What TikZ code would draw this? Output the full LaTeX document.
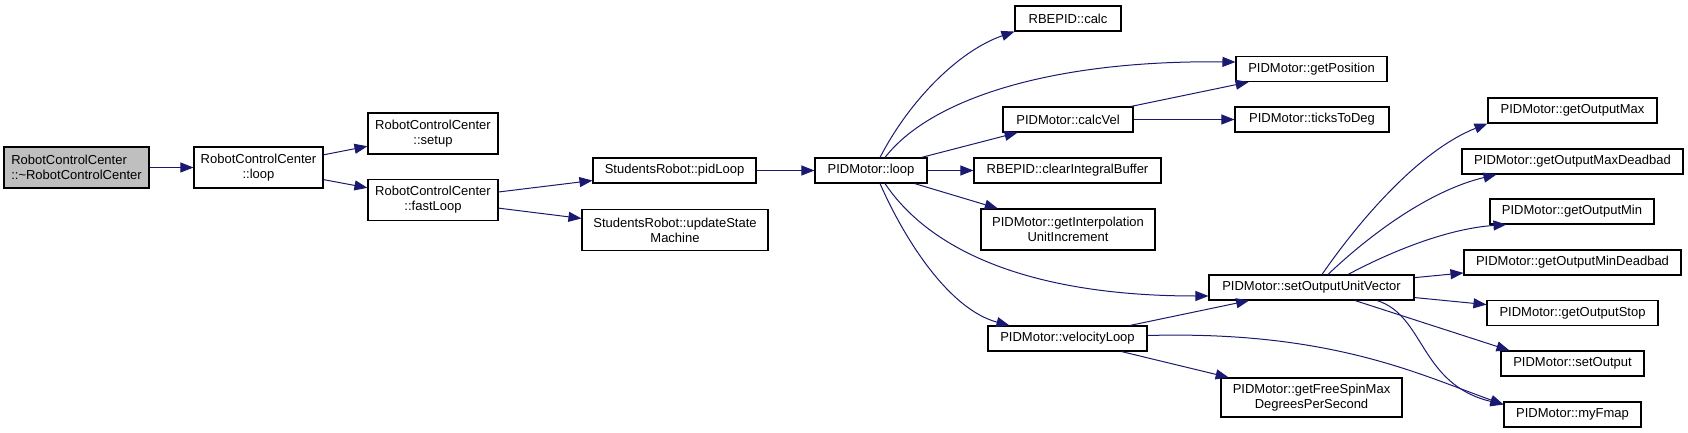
\documentclass[tikz,border=0pt]{standalone}
\usepackage{fontspec}
\setmainfont{Liberation Sans}
\usepackage{tikz}
\usetikzlibrary{calc,arrows.meta}
\definecolor{callBlue}{RGB}{25,25,112}
\definecolor{rootGray}{RGB}{191,191,191}

\begin{document}
\begin{tikzpicture}[x=1pt,y=-1pt,
    fn/.style={draw=black, line width=1.1pt, inner sep=0pt, align=center,
        minimum height=25pt, font=\fontsize{13}{15}\selectfont},
    fntwo/.style={fn, minimum height=41pt},
    call/.style={draw=callBlue, line width=1pt, -{Triangle[length=13pt,width=10pt]}}]

    \useasboundingbox (0,0) rectangle (1688,433);

    % left part of the graph
    \node[fntwo, fill=rootGray, align=left, minimum width=145pt] (rcc) at (76.5,167.5)
        {RobotControlCenter\\::\textasciitilde RobotControlCenter};
    \node[fntwo, minimum width=129pt] (rccloop) at (258.5,167.5) {RobotControlCenter\\::loop};
    \node[fntwo, minimum width=130pt] (setup) at (433,133.5) {RobotControlCenter\\::setup};
    \node[fntwo, minimum width=130pt] (fastloop) at (433,200) {RobotControlCenter\\::fastLoop};
    \node[fn, minimum width=163pt] (pidloop) at (674.5,170.5) {StudentsRobot::pidLoop};
    \node[fntwo, minimum width=186pt] (statemachine) at (675,230) {StudentsRobot::updateState\\Machine};
    \node[fn, minimum width=112pt] (motorloop) at (871,170.5) {PIDMotor::loop};

    % middle column
    \node[fn, minimum width=106pt] (calc) at (1068,18.5) {RBEPID::calc};
    \node[fn, minimum width=130pt] (calcvel) at (1068,119.5) {PIDMotor::calcVel};
    \node[fn, minimum width=187pt] (clearbuf) at (1067.5,170.5) {RBEPID::clearIntegralBuffer};
    \node[fntwo, minimum width=174pt] (interp) at (1068,229.5) {PIDMotor::getInterpolation\\UnitIncrement};
    \node[fn, minimum width=159pt] (vloop) at (1067.5,338.5) {PIDMotor::velocityLoop};

    \node[fn, minimum width=151pt] (getpos) at (1311.5,69) {PIDMotor::getPosition};
    \node[fn, minimum width=154pt] (ticks) at (1312,119.5) {PIDMotor::ticksToDeg};
    \node[fn, minimum width=205pt] (setouv) at (1311.5,287.5) {PIDMotor::setOutputUnitVector};
    \node[fntwo, minimum width=181pt, minimum height=39pt] (freespin) at (1311.5,397.5)
        {PIDMotor::getFreeSpinMax\\DegreesPerSecond};

    % right column
    \node[fn, minimum width=169pt] (omax) at (1572.5,110.5) {PIDMotor::getOutputMax};
    \node[fn, minimum width=221pt] (omaxdb) at (1572.5,161.5) {PIDMotor::getOutputMaxDeadbad};
    \node[fn, minimum width=164pt] (omin) at (1572,211.5) {PIDMotor::getOutputMin};
    \node[fn, minimum width=217pt] (omindb) at (1572.5,262.5) {PIDMotor::getOutputMinDeadbad};
    \node[fn, minimum width=171pt] (ostop) at (1572.5,313) {PIDMotor::getOutputStop};
    \node[fn, minimum width=143pt] (setoutput) at (1572.5,363.5) {PIDMotor::setOutput};
    \node[fn, minimum width=137pt] (fmap) at (1572.5,414.5) {PIDMotor::myFmap};

    % calls
    \draw[call] (rcc) -- (rccloop);
    \draw[call] (rccloop) -- (setup);
    \draw[call] (rccloop) -- (fastloop);
    \draw[call] (fastloop) -- (pidloop);
    \draw[call] (fastloop) -- (statemachine);
    \draw[call] (pidloop) -- (motorloop);

    \draw[call] ($(motorloop.north)+(9,0)$) .. controls +(30,-58) and +(-55,19) .. (calc.south west);
    \draw[call] ($(motorloop.north)+(14,0)$) .. controls +(45,-58) and +(-186,-2) .. ($(getpos.west)+(0,-7)$);
    \draw[call] (motorloop) -- (calcvel);
    \draw[call] (motorloop) -- (clearbuf);
    \draw[call] (motorloop) -- (interp);
    \draw[call] ($(motorloop.south)+(14,0)$) .. controls +(45,67) and +(-179,0) .. ($(setouv.west)+(0,8.5)$);
    \draw[call] ($(motorloop.south)+(9,0)$) .. controls +(25,57) and +(-60,-16) .. ($(vloop.north west)+(22,0)$);

    \draw[call] (calcvel) -- (getpos);
    \draw[call] (calcvel) -- (ticks);
    \draw[call] (vloop) -- (setouv);
    \draw[call] (vloop) -- (freespin);
    \draw[call] ($(vloop.east)+(0,-3)$) .. controls +(183,-5) and +(-84,-30) .. ($(fmap.north west)+(0,3)$);

    \draw[call] ($(setouv.north)+(10.5,0)$) .. controls +(38,-55) and +(-68,27) .. (omax.south west);
    \draw[call] ($(setouv.north)+(16.5,0)$) .. controls +(42,-40) and +(-67,16) .. ($(omaxdb.south west)+(35,0)$);
    \draw[call] ($(setouv.north)+(36.5,0)$) .. controls +(47,-25) and +(-57,4) .. ($(omin.south west)+(17,0)$);
    \draw[call] (setouv) -- (omindb);
    \draw[call] (setouv) -- (ostop);
    \draw[call] ($(setouv.south)+(43.5,0)$) -- ($(setoutput.north west)+(9,0)$);
    \draw[call] ($(setouv.south)+(65.5,0)$) .. controls +(48,15) and +(-84,-20) .. ($(fmap.north west)+(0,3)$);

\end{tikzpicture}
\end{document}
